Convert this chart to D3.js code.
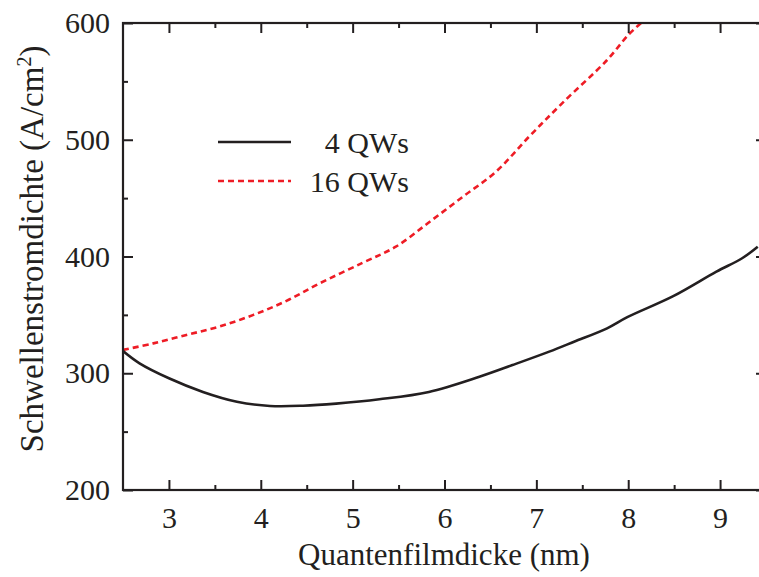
<!DOCTYPE html>
<html>
<head>
<meta charset="utf-8">
<script src="https://cdn.jsdelivr.net/npm/d3@7"></script>
<style>
  html, body { margin: 0; padding: 0; background: #fff; overflow: hidden; }
  svg { display: block; }
  svg text { font-family: "Liberation Serif", Tinos, "Times New Roman", "DejaVu Serif", serif !important; fill: #231f20; }
</style>
</head>
<body>
<svg id="chart" width="759" height="577"></svg>
<script>
// ---- data ----
const series4Label = "4 QWs";
const series16Label = "16 QWs";
const black4X = [2.5, 2.68, 3.0, 3.37, 3.74, 4.1, 4.46, 4.82, 5.29, 5.83, 6.38, 6.74, 7.14, 7.41, 7.77, 7.99, 8.49, 8.96, 9.24, 9.41];
const black4Y = [319, 308.5, 295.7, 284, 275.6, 272, 272.2, 274, 277.7, 284, 297, 307, 318.5, 327, 338.5, 348, 366, 387, 398.5, 408.4];
const red16X = [2.5, 2.83, 3.19, 3.55, 3.92, 4.28, 4.64, 5.11, 5.47, 5.84, 6.20, 6.56, 6.92, 7.28, 7.77, 8.0, 8.14];
const red16Y = [320, 325.6, 332.8, 340, 350, 362, 377, 394.6, 408.4, 429.8, 451.2, 472.6, 502.6, 531.2, 568.3, 589.7, 600];
const xTicks = [3, 4, 5, 6, 7, 8, 9];
const xMinorTicks = [3.5, 4.5, 5.5, 6.5, 7.5, 8.5];
const yTicks = [200, 300, 400, 500, 600];
const yMinorTicks = [250, 350, 450, 550];
const xTitle = "Quantenfilmdicke (nm)";
const yTitleMain = "Schwellenstromdichte (A/cm";
const yTitleSup = "2";
const yTitleEnd = ")";

// ---- layout ----
const FONT = '"Liberation Serif", Tinos, "Times New Roman", "DejaVu Serif", serif';
const svg = d3.select("#chart");
const L = 123, T = 23, B = 490, R = 766;
const x = d3.scaleLinear().domain([2.5, 9.5]).range([L, R]);
const y = d3.scaleLinear().domain([200, 600]).range([B, T]);
const axisColor = "#231f20";

svg.append("clipPath").attr("id", "clip")
  .append("rect").attr("x", L).attr("y", T).attr("width", R - L).attr("height", B - T);

const line = d3.line().x(d => x(d[0])).y(d => y(d[1])).curve(d3.curveCatmullRom.alpha(0.5));

const plot = svg.append("g").attr("clip-path", "url(#clip)");
plot.append("path")
  .datum(red16X.map((v, i) => [v, red16Y[i]]))
  .attr("d", line).attr("fill", "none")
  .attr("stroke", "#ee1c25").attr("stroke-width", 2.6)
  .attr("stroke-dasharray", "6,4");
plot.append("path")
  .datum(black4X.map((v, i) => [v, black4Y[i]]))
  .attr("d", line).attr("fill", "none")
  .attr("stroke", "#231f20").attr("stroke-width", 2.6);

function styleAxis(g) {
  g.attr("font-family", FONT);
  g.select(".domain").remove();
  g.selectAll("line").attr("stroke", axisColor).attr("stroke-width", 2);
}
const tickFont = 30;
const gB = svg.append("g").attr("transform", `translate(0,${B})`)
  .call(d3.axisBottom(x).tickValues(xTicks).tickSizeInner(-10).tickSizeOuter(0).tickPadding(17).tickFormat(d3.format("d")));
styleAxis(gB);
gB.selectAll("text").attr("font-size", tickFont).attr("fill", axisColor).attr("font-family", FONT);
svg.append("g").attr("transform", `translate(0,${B})`)
  .call(d3.axisBottom(x).tickValues(xMinorTicks).tickSizeInner(-5).tickSizeOuter(0).tickFormat(""))
  .call(styleAxis);
svg.append("g").attr("transform", `translate(0,${T})`)
  .call(d3.axisTop(x).tickValues(xTicks).tickSizeInner(-10).tickSizeOuter(0).tickFormat(""))
  .call(styleAxis);
svg.append("g").attr("transform", `translate(0,${T})`)
  .call(d3.axisTop(x).tickValues(xMinorTicks).tickSizeInner(-5).tickSizeOuter(0).tickFormat(""))
  .call(styleAxis);
const gL = svg.append("g").attr("transform", `translate(${L},0)`)
  .call(d3.axisLeft(y).tickValues(yTicks).tickSizeInner(-10).tickSizeOuter(0).tickPadding(13).tickFormat(d3.format("d")));
styleAxis(gL);
gL.selectAll("text").attr("font-size", tickFont).attr("fill", axisColor).attr("font-family", FONT);
svg.append("g").attr("transform", `translate(${L},0)`)
  .call(d3.axisLeft(y).tickValues(yMinorTicks).tickSizeInner(-5).tickSizeOuter(0).tickFormat(""))
  .call(styleAxis);
svg.append("g").attr("transform", `translate(${R},0)`)
  .call(d3.axisRight(y).tickValues(yTicks).tickSizeInner(-10).tickSizeOuter(0).tickFormat(""))
  .call(styleAxis);
svg.append("g").attr("transform", `translate(${R},0)`)
  .call(d3.axisRight(y).tickValues(yMinorTicks).tickSizeInner(-5).tickSizeOuter(0).tickFormat(""))
  .call(styleAxis);

svg.append("rect").attr("x", L).attr("y", T).attr("width", R - L).attr("height", B - T)
  .attr("fill", "none").attr("stroke", axisColor).attr("stroke-width", 2.2);

svg.append("text").attr("x", 444).attr("y", 565).attr("text-anchor", "middle")
  .attr("font-family", FONT).attr("font-size", 31).text(xTitle);
const yt = svg.append("text").attr("transform", "translate(43,249) rotate(-90)")
  .attr("text-anchor", "middle").attr("font-family", FONT).attr("font-size", 33);
yt.append("tspan").text(yTitleMain);
yt.append("tspan").attr("font-size", 20).attr("dy", -12).text(yTitleSup);
yt.append("tspan").attr("dy", 12).text(yTitleEnd);

const legend = [
  { label: series4Label, color: "#231f20", dash: null, yy: 142 },
  { label: series16Label, color: "#ee1c25", dash: "6,4", yy: 181 }
];
legend.forEach(d => {
  svg.append("line").attr("x1", 218).attr("x2", 291).attr("y1", d.yy).attr("y2", d.yy)
    .attr("stroke", d.color).attr("stroke-width", 2.6).attr("stroke-dasharray", d.dash);
  svg.append("text").attr("x", 409).attr("y", d.yy + 11).attr("text-anchor", "end")
    .attr("font-family", FONT).attr("font-size", 30).text(d.label);
});
</script>
</body>
</html>
